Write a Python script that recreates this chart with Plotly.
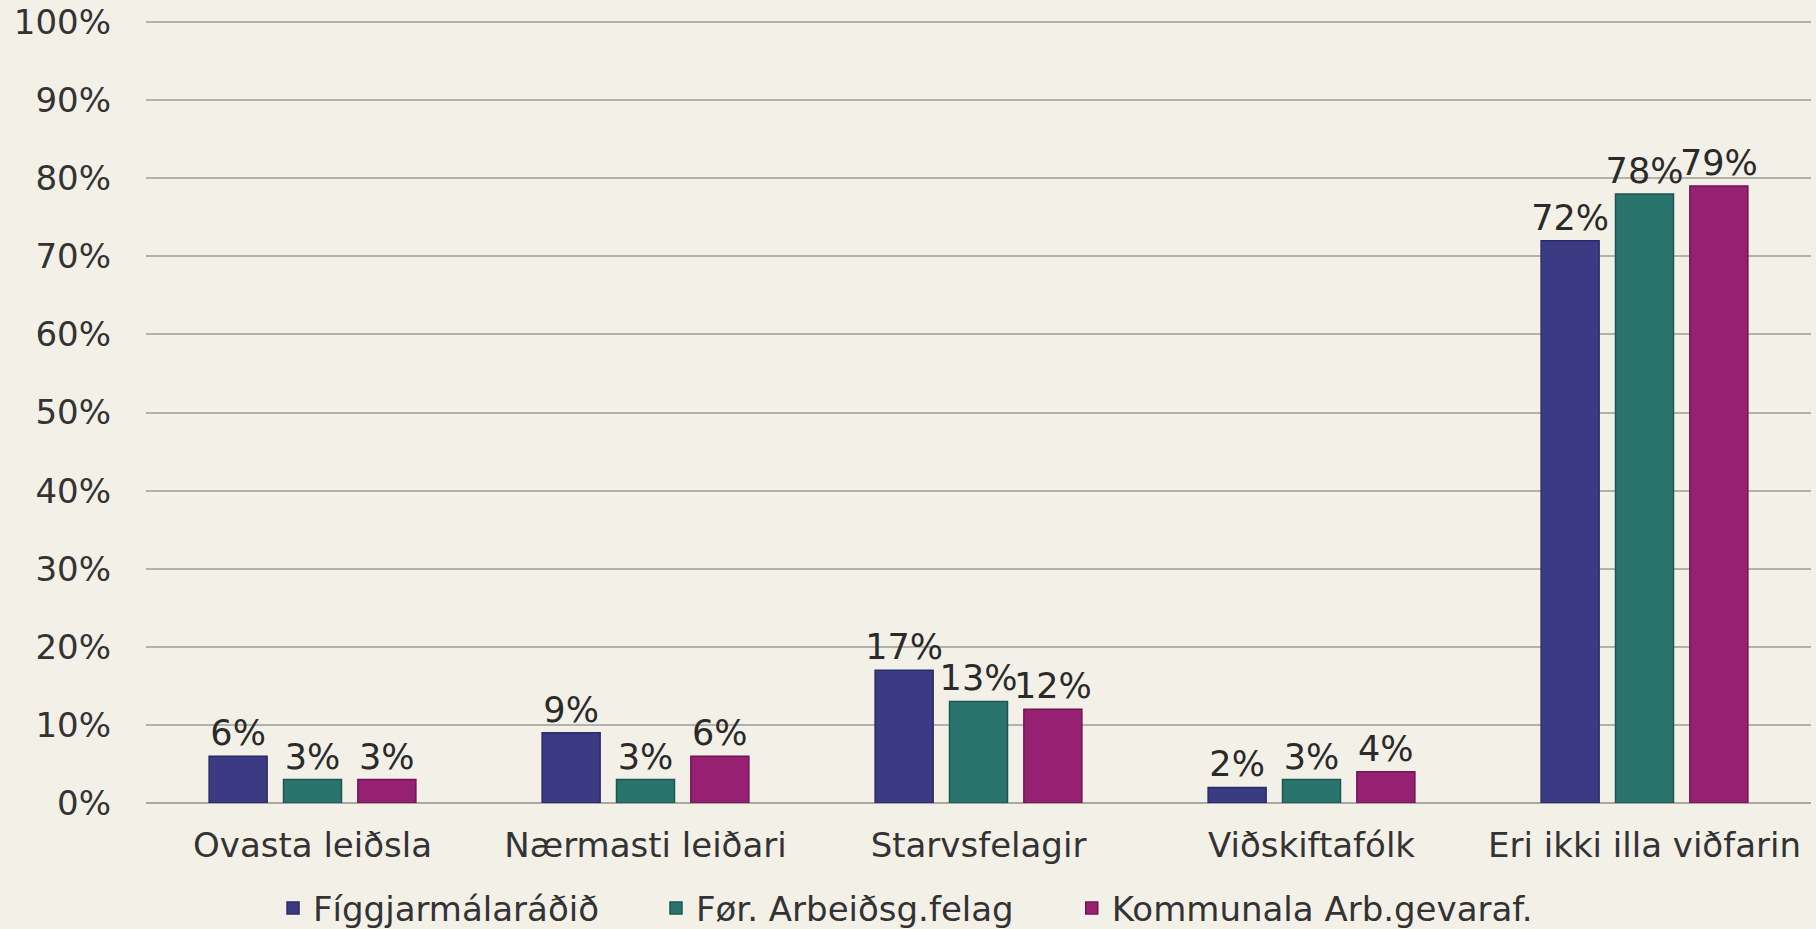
import plotly.graph_objects as go

categories = ["Ovasta leiðsla", "Nærmasti leiðari", "Starvsfelagir", "Viðskiftafólk", "Eri ikki illa viðfarin"]
series_names = ["Fíggjarmálaráðið", "Før. Arbeiðsg.felag", "Kommunala Arb.gevaraf."]
fig_values = [6, 9, 17, 2, 72]
for_values = [3, 3, 13, 3, 78]
kom_values = [3, 6, 12, 4, 79]
y_ticks = list(range(0, 101, 10))

colors = ["#3b3b84", "#2b746d", "#962172"]
outlines = ["#2a2a66", "#1d5650", "#701552"]
legend_ids = ["legend", "legend2", "legend3"]
legend_x = [0.0763, 0.3063, 0.556]

FS = 34
fig = go.Figure()
for name, vals, c, oc, lg in zip(series_names, [fig_values, for_values, kom_values], colors, outlines, legend_ids):
    fig.add_trace(go.Bar(
        x=categories, y=vals, name=name, legend=lg,
        marker=dict(color=c, line=dict(color=oc, width=1.5)),
        text=[f"{v}%" for v in vals], textposition="outside",
        constraintext="none",
        textfont=dict(family="DejaVu Sans", size=35, color="#2a2a2a"),
        cliponaxis=False,
    ))

bg = "#f3f0e8"
legend_common = dict(orientation="h", xanchor="left", y=-0.1345, yanchor="middle",
                     font=dict(size=FS, color="#333333"), bgcolor="rgba(0,0,0,0)",
                     itemwidth=30)
fig.update_layout(
    width=1816, height=929,
    paper_bgcolor=bg, plot_bgcolor=bg,
    margin=dict(l=146, r=5, t=19, b=126, autoexpand=False),
    barmode="group", bargap=0.33, bargroupgap=0.22,
    font=dict(family="DejaVu Sans", size=FS, color="#333333"),
    showlegend=True,
    legend=dict(x=legend_x[0], **legend_common),
    legend2=dict(x=legend_x[1], **legend_common),
    legend3=dict(x=legend_x[2], **legend_common),
    yaxis=dict(range=[0, 100.4], tickvals=y_ticks, ticktext=[f"{t}%" for t in y_ticks],
               showgrid=True, gridcolor="#b3b1ab", gridwidth=1.5, zeroline=True,
               zerolinecolor="#a9a7a0", zerolinewidth=1.5, showline=False,
               tickfont=dict(size=FS, color="#333333"), ticklabelstandoff=34,
               ticklabeloverflow="allow", automargin=False),
    xaxis=dict(showgrid=False, showline=False, tickfont=dict(size=FS, color="#333333"),
               ticklabelstandoff=19, automargin=False),
)

fig.write_html("out.html", config={"displayModeBar": False},
               post_script="document.body.style.margin='0';document.body.style.overflow='hidden';")
